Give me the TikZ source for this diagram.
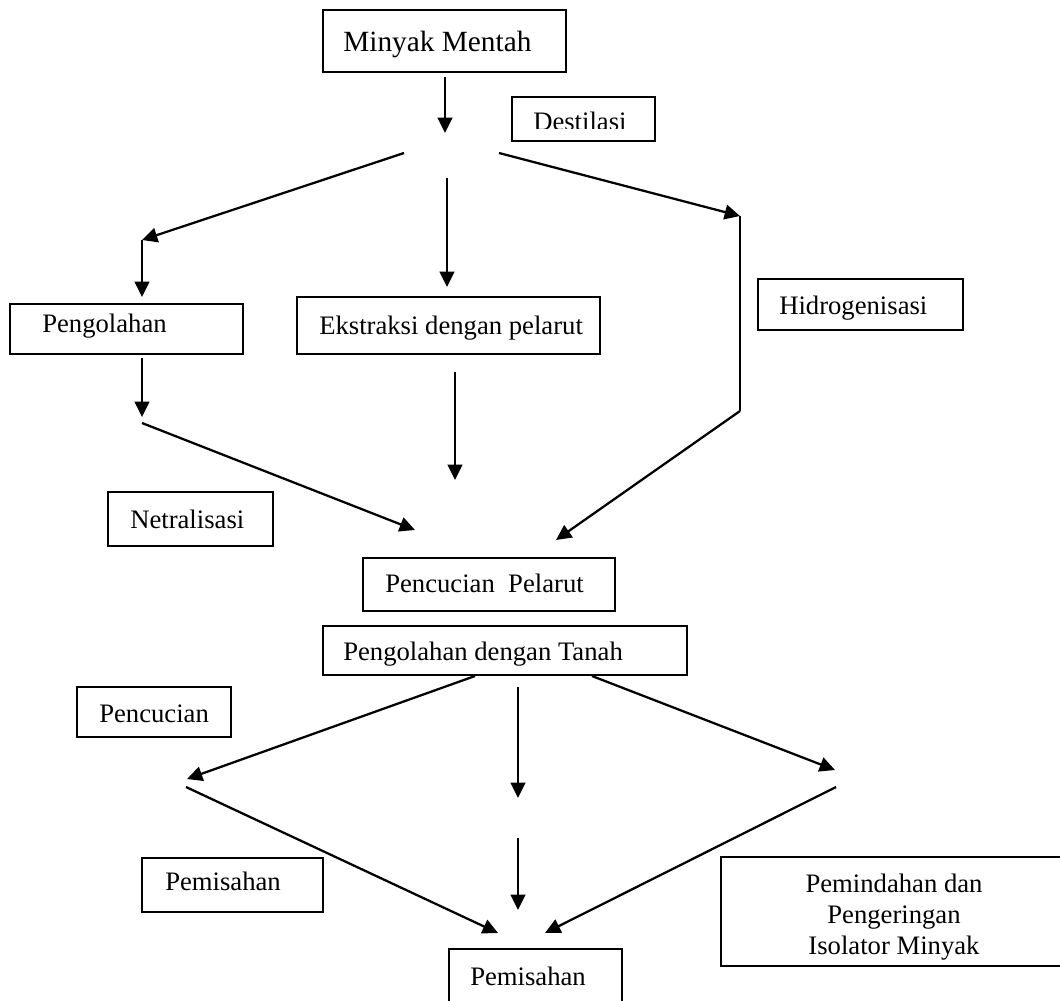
\documentclass[tikz,border=0pt]{standalone}
\usepackage{fontspec}
\setmainfont{Liberation Serif}
\usetikzlibrary{arrows.meta,fit}
\begin{document}
\begin{tikzpicture}[x=0.75pt,y=-0.75pt,
  flow/.style={line width=1.7pt,-{Triangle[length=11.5pt,width=11pt]}},
  seg/.style={line width=1.7pt},
  frame/.style={draw,line width=1.2pt,inner sep=0pt},
  lbl/.style={anchor=base west,inner sep=0pt,font=\fontsize{20}{24}\selectfont},
  clbl/.style={anchor=base,inner sep=0pt,font=\fontsize{20}{24}\selectfont},
]
\useasboundingbox (0,0) rectangle (1060,1000);
\clip (0,0) rectangle (1060,1000);

% boxes
\node[frame,fit={(323,10) (566,72)}] (mentah) {};
\node[frame,fit={(512,97) (655,141)}] (destilasi) {};
\node[frame,fit={(10,304) (243,354)}] (olah) {};
\node[frame,fit={(297,297) (600,354)}] (ekstraksi) {};
\node[frame,fit={(758,279) (963,330)}] (hidro) {};
\node[frame,fit={(108,492) (273,546)}] (netral) {};
\node[frame,fit={(363,558) (615,611)}] (cucipel) {};
\node[frame,fit={(323,626) (687,675)}] (tanah) {};
\node[frame,fit={(77,687) (231,737)}] (cuci) {};
\node[frame,fit={(142,858) (323,912)}] (pisahL) {};
\node[frame,fit={(721,857) (1075,966)}] (pindah) {};
\node[frame,fit={(449,949) (622,1010)}] (pisahB) {};

% texts
\node[lbl,font=\fontsize{22}{26}\selectfont] at (343,51) {Minyak Mentah};
\begin{scope}
  \clip (512,97) rectangle (655,128);
  \node[lbl] at (533,130) {Destilasi};
\end{scope}
\node[lbl] at (42,332) {Pengolahan};
\node[lbl] at (319,334) {Ekstraksi dengan pelarut};
\node[lbl] at (779,314) {Hidrogenisasi};
\node[lbl] at (130,528) {Netralisasi};
\node[lbl] at (385,592) {Pencucian\ \ Pelarut};
\node[lbl] at (343,660) {Pengolahan dengan Tanah};
\node[lbl] at (99,722) {Pencucian};
\node[lbl] at (165,890) {Pemisahan};
\node[clbl] at (894,892) {Pemindahan dan};
\node[clbl] at (894,923) {Pengeringan};
\node[clbl] at (894,954) {Isolator Minyak};
\node[lbl] at (470,985) {Pemisahan};

% connector end points
\coordinate (a1) at (445,77);   \coordinate (a2) at (445,133);
\coordinate (l0) at (404,153);  \coordinate (l1) at (142,240);
\coordinate (l2) at (142,297);
\coordinate (r0) at (499,153);  \coordinate (r1) at (740,216);
\coordinate (r2) at (740,411);  \coordinate (r3) at (556,540);
\coordinate (m0) at (447,178);  \coordinate (m1) at (447,287);
\coordinate (o0) at (142,358);  \coordinate (o1) at (142,417);
\coordinate (n0) at (142,423);  \coordinate (n1) at (415,530);
\coordinate (e0) at (455,372);  \coordinate (e1) at (455,480);
\coordinate (t0) at (475,676);  \coordinate (t1) at (187,779);
\coordinate (u0) at (518,687);  \coordinate (u1) at (518,798);
\coordinate (v0) at (592,676);  \coordinate (v1) at (835,770);
\coordinate (w0) at (186,787);  \coordinate (w1) at (498,933);
\coordinate (x0) at (518,838);  \coordinate (x1) at (518,910);
\coordinate (y0) at (836,787);  \coordinate (y1) at (545,933);

% connectors
\draw[flow] (a1) -- (a2);
\draw[flow] (l0) -- (l1);
\draw[flow] (l1) -- (l2);
\draw[flow] (r0) -- (r1);
\draw[seg] (r1) -- (r2);
\draw[flow] (r2) -- (r3);
\draw[flow] (m0) -- (m1);
\draw[flow] (o0) -- (o1);
\draw[flow] (n0) -- (n1);
\draw[flow] (e0) -- (e1);
\draw[flow] (t0) -- (t1);
\draw[flow] (u0) -- (u1);
\draw[flow] (v0) -- (v1);
\draw[flow] (w0) -- (w1);
\draw[flow] (x0) -- (x1);
\draw[flow] (y0) -- (y1);
\end{tikzpicture}
\end{document}
